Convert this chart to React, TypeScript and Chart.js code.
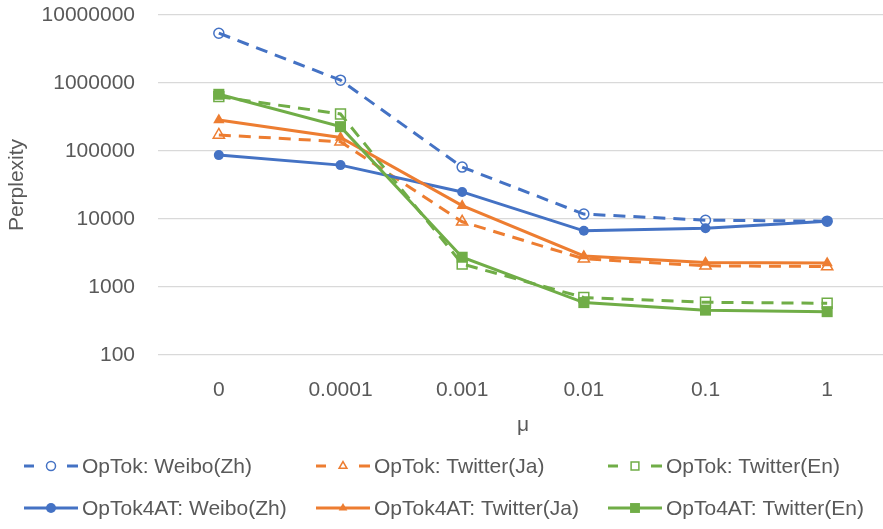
import React, { useEffect, useRef } from "react";
import { Chart, registerables } from "chart.js";

Chart.register(...registerables);

const categories = ["0", "0.0001", "0.001", "0.01", "0.1", "1"];
const yTickValues = [100, 1000, 10000, 100000, 1000000, 10000000];

const opTokWeibo = [5400000, 1100000, 58000, 11800, 9600, 9300];
const opTokJa = [172000, 137000, 9100, 2600, 2050, 2000];
const opTokEn = [630000, 350000, 2180, 700, 596, 576];
const opTok4Weibo = [87000, 62000, 25000, 6700, 7300, 9300];
const opTok4Ja = [286000, 158000, 15700, 2860, 2300, 2250];
const opTok4En = [682000, 228000, 2740, 590, 457, 434];

const BLUE = "#4472C4";
const ORANGE = "#ED7D31";
const GREEN = "#70AD47";
const TEXT = "#595959";
const FONT = "'Liberation Sans', Arial, sans-serif";

type SeriesDef = {
  label: string;
  data: number[];
  color: string;
  dashed: boolean;
  style: "circle" | "triangle" | "rect";
  radius: number;
};

const series: SeriesDef[] = [
  { label: "OpTok: Weibo(Zh)", data: opTokWeibo, color: BLUE, dashed: true, style: "circle", radius: 5 },
  { label: "OpTok: Twitter(Ja)", data: opTokJa, color: ORANGE, dashed: true, style: "triangle", radius: 6.5 },
  { label: "OpTok: Twitter(En)", data: opTokEn, color: GREEN, dashed: true, style: "rect", radius: 7 },
  { label: "OpTok4AT: Weibo(Zh)", data: opTok4Weibo, color: BLUE, dashed: false, style: "circle", radius: 5 },
  { label: "OpTok4AT: Twitter(Ja)", data: opTok4Ja, color: ORANGE, dashed: false, style: "triangle", radius: 6.5 },
  { label: "OpTo4AT: Twitter(En)", data: opTok4En, color: GREEN, dashed: false, style: "rect", radius: 7.8 },
];

function drawMarker(ctx: CanvasRenderingContext2D, s: SeriesDef, x: number, y: number, r: number) {
  ctx.save();
  ctx.beginPath();
  if (s.style === "circle") {
    ctx.arc(x, y, r, 0, Math.PI * 2);
  } else if (s.style === "triangle") {
    const w = r * Math.sin(Math.PI / 3);
    ctx.moveTo(x, y - r);
    ctx.lineTo(x + w, y + r / 2);
    ctx.lineTo(x - w, y + r / 2);
    ctx.closePath();
  } else {
    const h = r * Math.SQRT1_2;
    ctx.rect(x - h, y - h, 2 * h, 2 * h);
  }
  ctx.setLineDash([]);
  if (s.dashed) {
    ctx.fillStyle = "#ffffff";
    ctx.fill();
    ctx.strokeStyle = s.color;
    ctx.lineWidth = 1.5;
    ctx.stroke();
  } else {
    ctx.fillStyle = s.color;
    ctx.fill();
  }
  ctx.restore();
}

const legendPlugin = {
  id: "gridLegend",
  afterDraw(chart: any) {
    const ctx: CanvasRenderingContext2D = chart.ctx;
    const colX = [24, 316, 608];
    const rowY = [466, 508];
    series.forEach((s, i) => {
      const x0 = colX[i % 3];
      const y = rowY[Math.floor(i / 3)];
      ctx.save();
      ctx.strokeStyle = s.color;
      ctx.lineWidth = 3;
      ctx.beginPath();
      if (s.dashed) {
        ctx.moveTo(x0, y);
        ctx.lineTo(x0 + 10, y);
        ctx.moveTo(x0 + 43, y);
        ctx.lineTo(x0 + 54, y);
      } else {
        ctx.moveTo(x0, y);
        ctx.lineTo(x0 + 54, y);
      }
      ctx.stroke();
      ctx.restore();
      const mr = s.dashed ? (s.style === "rect" ? 5.5 : 4.5) : s.style === "rect" ? 7 : 5;
      drawMarker(ctx, s, x0 + 27, y, mr);
      ctx.save();
      ctx.fillStyle = TEXT;
      ctx.font = `21px ${FONT}`;
      ctx.textBaseline = "middle";
      ctx.textAlign = "left";
      ctx.fillText(s.label, x0 + 58, y + 1);
      ctx.restore();
    });
  },
};

export default function App() {
  const ref = useRef<HTMLCanvasElement | null>(null);

  useEffect(() => {
    if (!ref.current) return;
    const chart = new Chart(ref.current, {
      type: "line",
      data: {
        labels: categories,
        datasets: series.map((s, i) => ({
          label: s.label,
          data: s.data,
          borderColor: s.color,
          backgroundColor: s.dashed ? "rgba(0,0,0,0)" : s.color,
          borderWidth: 3,
          borderDash: s.dashed ? [12, 8] : [],
          pointStyle: s.style,
          pointRadius: s.radius,
          pointBorderWidth: s.dashed ? 1.5 : 0,
          pointBorderColor: s.color,
          pointBackgroundColor: s.dashed ? "rgba(0,0,0,0)" : s.color,
          tension: 0,
          fill: false,
          order: 10 - i,
          clip: false as any,
        })),
      },
      options: {
        animation: false,
        responsive: false,
        devicePixelRatio: 1,
        layout: { autoPadding: false, padding: { top: 15, left: 0, right: 0, bottom: 89 } },
        plugins: {
          legend: { display: false },
          tooltip: { enabled: false },
        },
        scales: {
          x: {
            type: "category",
            offset: true,
            grid: { display: false, drawTicks: false },
            border: { display: false },
            ticks: {
              color: TEXT,
              font: { family: FONT, size: 21 },
              padding: 23,
              maxRotation: 0,
              autoSkip: false,
            },
            title: {
              display: true,
              text: "μ",
              color: TEXT,
              font: { family: FONT, size: 21 },
              padding: { top: 4, bottom: 2 },
            },
            afterFit: (scale: any) => {
              scale.height = 85;
              scale.paddingLeft = 0;
              scale.paddingRight = 0;
            },
          },
          y: {
            type: "logarithmic",
            min: 100,
            max: 10000000,
            grid: { color: "#D9D9D9", lineWidth: 1.3, drawTicks: false },
            border: { display: false },
            ticks: {
              color: TEXT,
              font: { family: FONT, size: 21 },
              padding: 23,
              callback: (v: any) => String(v),
            },
            afterBuildTicks: (scale: any) => {
              scale.ticks = yTickValues.map((v) => ({ value: v }));
            },
            title: {
              display: true,
              text: "Perplexity",
              color: TEXT,
              font: { family: FONT, size: 21 },
              padding: { top: 5, bottom: 0 },
            },
            afterFit: (scale: any) => {
              scale.width = 158;
              scale.paddingTop = 0;
              scale.paddingBottom = 0;
            },
          },
        },
      },
      plugins: [legendPlugin],
    });
    return () => chart.destroy();
  }, []);

  return (
    <div style={{ position: "fixed", left: 0, top: 0, width: 888, height: 529, background: "#ffffff" }}>
      <canvas ref={ref} width={888} height={529} style={{ display: "block", width: 888, height: 529 }} />
    </div>
  );
}
